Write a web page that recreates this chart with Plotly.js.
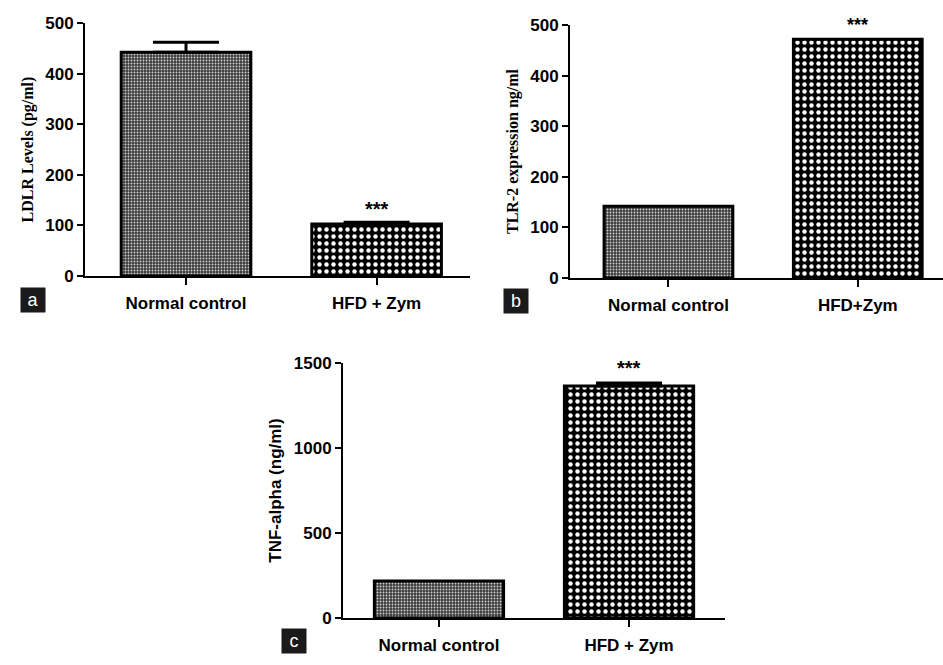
<!DOCTYPE html>
<html>
<head>
<meta charset="utf-8">
<script src="https://cdn.plot.ly/plotly-3.0.1.min.js"></script>
<style>html,body{margin:0;padding:0;background:#fff;}#chart{width:943px;height:665px;}</style>
</head>
<body>
<div id="chart"></div>
<script>
// ---- data ----
const categoriesA = ["Normal control", "HFD + Zym"];
const ldlrValues = [442, 103];
const ldlrErrors = [20, 3];

const categoriesB = ["Normal control", "HFD+Zym"];
const tlr2Values = [142, 472];
const tlr2Errors = [0, 0];

const categoriesC = ["Normal control", "HFD + Zym"];
const tnfValues = [218, 1365];
const tnfErrors = [0, 17];

const sigLabel = "***";
const yTicksA = [0, 100, 200, 300, 400, 500];
const yTicksB = [0, 100, 200, 300, 400, 500];
const yTicksC = [0, 500, 1000, 1500];

// ---- styles ----
const patterns = [
  {shape: ".", bgcolor: "#3c3c3c", fgcolor: "#cfcfcf", size: 3, solidity: 0.3, fillmode: "replace"},
  {shape: ".", bgcolor: "#000000", fgcolor: "#ffffff", size: 7, solidity: 0.32, fillmode: "replace"}
];
const barColors = ["#3c3c3c", "#000000"];

function barTraces(cats, vals, errs, xa, ya, showErr) {
  return cats.map((c, i) => ({
    type: "bar", x: [c], y: [vals[i]], xaxis: xa, yaxis: ya, width: 0.68,
    marker: {
      color: barColors[i],
      line: {color: "#000", width: 3},
      pattern: patterns[i]
    },
    error_y: {type: "data", array: [errs[i]], arrayminus: [0], symmetric: false,
      visible: showErr && errs[i] > 0, color: "#000", thickness: 3, width: 33},
    showlegend: false, hoverinfo: "skip"
  }));
}

const traces = [].concat(
  barTraces(categoriesA, ldlrValues, ldlrErrors, "x", "y", true),
  barTraces(categoriesB, tlr2Values, tlr2Errors, "x2", "y2", false),
  barTraces(categoriesC, tnfValues, tnfErrors, "x3", "y3", true)
);

const tickFont = {family: "Liberation Sans, Arial, sans-serif", size: 17, color: "#000", weight: "bold"};
function xAxis(domain, range, anchor, cats) {
  return {domain: domain, range: range, anchor: anchor, type: "category",
    categoryorder: "array", categoryarray: cats,
    showline: true, linecolor: "#000", linewidth: 2, ticks: "outside", ticklen: 7,
    tickwidth: 2, tickcolor: "#000", showgrid: false, zeroline: false,
    ticklabelstandoff: 4,
    tickfont: tickFont, fixedrange: true};
}
function yAxis(domain, range, anchor, tv, title, tfont) {
  return {domain: domain, range: range, anchor: anchor, tickvals: tv,
    showline: true, linecolor: "#000", linewidth: 2, ticks: "outside", ticklen: 6,
    tickwidth: 2, tickcolor: "#000", showgrid: false, zeroline: false,
    tickfont: tickFont, fixedrange: true,
    title: {text: title, font: tfont, standoff: 8}};
}
const serifTitle = {family: "Liberation Serif, Times New Roman, serif", size: 16, color: "#000", weight: "bold"};
const sansTitle = {family: "Liberation Sans, Arial, sans-serif", size: 17, color: "#000", weight: "bold"};

const W = 943, H = 665;
const px = v => v / W, py = v => 1 - v / H;

const layout = {
  width: W, height: H,
  margin: {l: 0, r: 0, t: 0, b: 0},
  paper_bgcolor: "#fff", plot_bgcolor: "rgba(0,0,0,0)",
  barmode: "overlay",
  xaxis: xAxis([px(85), px(470)], [-0.53, 1.49], "y", categoriesA),
  yaxis: yAxis([py(276), py(23)], [0, 500], "x", yTicksA, "LDLR Levels (pg/ml)", serifTitle),
  xaxis2: xAxis([px(570), 1], [-0.52, 1.45], "y2", categoriesB),
  yaxis2: yAxis([py(278), py(25)], [0, 500], "x2", yTicksB, "TLR-2 expression ng/ml", serifTitle),
  xaxis3: xAxis([px(343), px(725)], [-0.505, 1.505], "y3", categoriesC),
  yaxis3: yAxis([py(618), py(363)], [0, 1500], "x3", yTicksC, "TNF-alpha (ng/ml)", sansTitle),
  annotations: [
    {xref: "x", yref: "y", x: categoriesA[1], y: 132, text: sigLabel, showarrow: false,
      font: {family: "Liberation Sans, Arial", size: 20, color: "#000", weight: "bold"}},
    {xref: "x2", yref: "y2", x: categoriesB[1], y: 500, text: sigLabel, showarrow: false,
      font: {family: "Liberation Sans, Arial", size: 18, color: "#000", weight: "bold"}},
    {xref: "x3", yref: "y3", x: categoriesC[1], y: 1470, text: sigLabel, showarrow: false,
      font: {family: "Liberation Sans, Arial", size: 20, color: "#000", weight: "bold"}},
    {xref: "paper", yref: "paper", x: px(19.5), y: py(299.5), text: "a", showarrow: false,
      bgcolor: "#1a1a1a", width: 22, height: 22,
      font: {family: "Liberation Sans, Arial", size: 18, color: "#fff"}},
    {xref: "paper", yref: "paper", x: px(515.5), y: py(300.5), text: "b", showarrow: false,
      bgcolor: "#1a1a1a", width: 22, height: 22,
      font: {family: "Liberation Sans, Arial", size: 18, color: "#fff"}},
    {xref: "paper", yref: "paper", x: px(281), y: py(654), text: "c", showarrow: false,
      bgcolor: "#1a1a1a", width: 22, height: 22,
      font: {family: "Liberation Sans, Arial", size: 18, color: "#fff"}}
  ]
};

Plotly.newPlot("chart", traces, layout, {displayModeBar: false, staticPlot: true});
</script>
</body>
</html>
